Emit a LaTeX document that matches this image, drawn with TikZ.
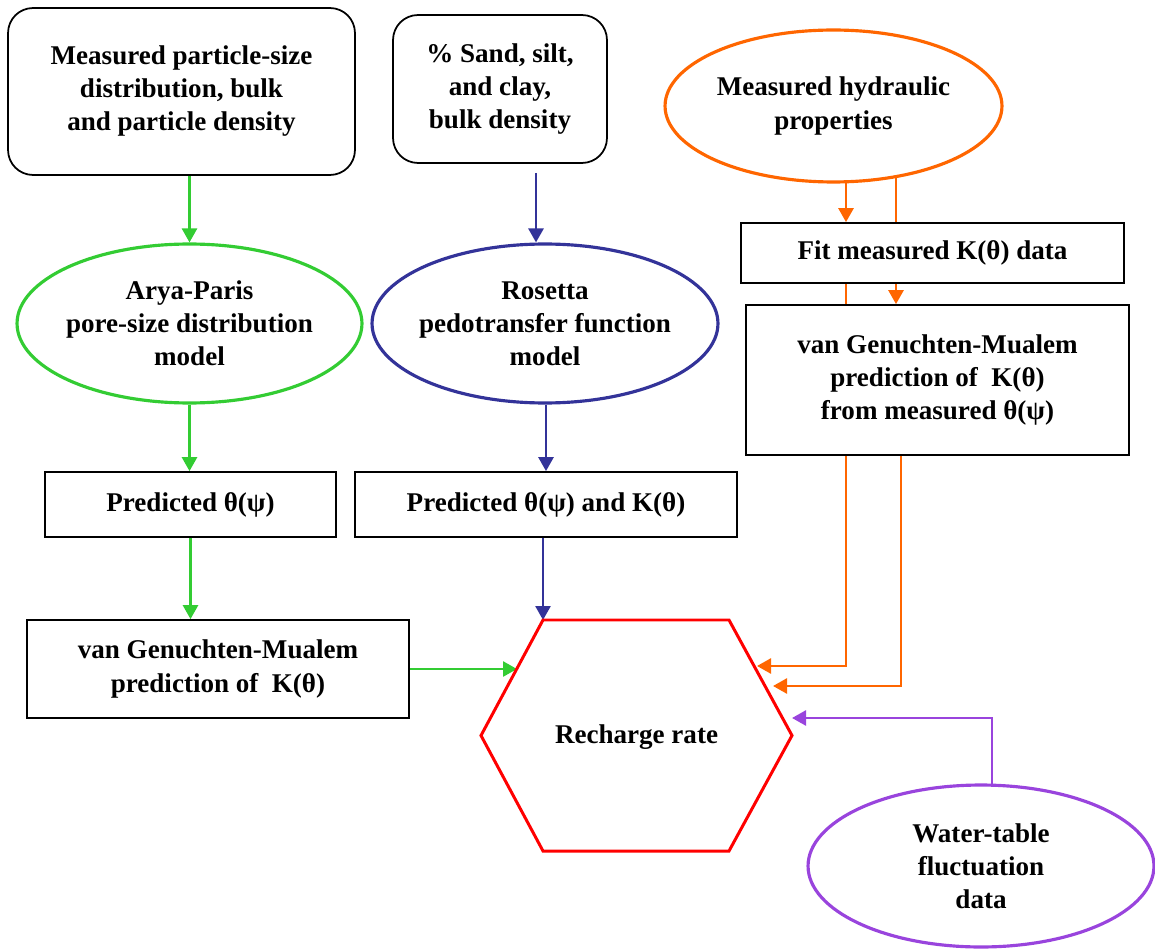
\documentclass[tikz,border=0pt]{standalone}
\usepackage{fontspec}
\setmainfont{Liberation Serif}
\usetikzlibrary{arrows.meta,backgrounds,shapes.geometric}

\definecolor{grn}{RGB}{51,204,51}
\definecolor{blu}{RGB}{51,51,153}
\definecolor{org}{RGB}{255,102,0}
\definecolor{pur}{RGB}{153,68,221}

\begin{document}
\begin{tikzpicture}[x=0.02cm,y=-0.02cm,
    every node/.style={font=\bfseries\fontsize{15.4}{18.8}\selectfont, align=center, fill=white},
    box/.style={draw, line width=1pt, inner sep=0pt},
    rbox/.style={box, rounded corners=0.5cm},
    oval/.style={ellipse, draw, line width=1.8pt, inner sep=-1cm},
    arr/.style={line width=1.5pt, -{Triangle[length=0.28cm,width=0.3cm]}}]
\useasboundingbox (0,0) rectangle (1155,949);

% inputs
\node[rbox, minimum width=6.94cm, minimum height=3.34cm] (psd) at (181.5,91.5)
    {Measured particle-size\\distribution, bulk\\and particle density};
\node[rbox, minimum width=4.28cm, minimum height=2.96cm] (pct) at (500,89)
    {\% Sand, silt,\\and clay,\\bulk density};
\node[oval, draw=org, minimum width=6.74cm, minimum height=3.04cm] (hyd) at (833.5,106)
    {Measured hydraulic\\properties};

% models
\node[oval, draw=grn, minimum width=6.9cm, minimum height=3.18cm] (arya) at (189.5,323.5)
    {Arya-Paris\\pore-size distribution\\model};
\node[oval, draw=blu, minimum width=6.92cm, minimum height=3.18cm] (ros) at (545,323.5)
    {Rosetta\\pedotransfer function\\model};
\node[box, minimum width=7.66cm, minimum height=1.2cm] (fit) at (932.5,253)
    {Fit measured K(θ) data};
\node[box, minimum width=7.66cm, minimum height=3cm] (vgr) at (937.5,380)
    {van Genuchten-Mualem\\prediction of\ \ K(θ)\\from measured θ(ψ)};

% predictions
\node[box, minimum width=5.82cm, minimum height=1.3cm] (pra) at (190.5,504.5)
    {Predicted θ(ψ)};
\node[box, minimum width=7.64cm, minimum height=1.3cm] (prr) at (546,504.5)
    {Predicted θ(ψ) and K(θ)};
\node[box, minimum width=7.64cm, minimum height=1.96cm] (vgl) at (218,669)
    {van Genuchten-Mualem\\prediction of\ \ K(θ)};

% recharge
\draw[red, line width=1.7pt, fill=white] (543,620) coordinate (hB) -- (729,620)
    -- (792,735.5) -- (729,851) -- (543,851) -- (481,735.5) -- cycle;
\node (rech) at (636.5,737) {Recharge rate};
\node[oval, draw=pur, minimum width=6.92cm, minimum height=3.24cm] (wt) at (981,866)
    {Water-table\\fluctuation\\data};

\coordinate (hG) at (517,669);
\coordinate (hO1) at (757,666);
\coordinate (hO2) at (773,686);
\coordinate (hP) at (792,718);
\coordinate (bx) at (536,0);
\coordinate (oL) at (846,0);
\coordinate (oR) at (896,0);
\coordinate (oS) at (901,0);
\coordinate (pv) at (992,0);

\begin{pgfonlayer}{background}
\draw[arr, grn] (psd.south -| arya.north) -- (arya.north);
\draw[arr, grn] (arya.south) -- (arya.south |- pra.north);
\draw[arr, grn] (pra.south) -- (pra.south |- vgl.north);
\draw[arr, grn] (vgl.east) -- (hG);

\draw[arr, blu, shorten <=0.18cm] (pct.south -| bx) -- (ros.north -| bx);
\draw[arr, blu] (ros.south -| prr.north) -- (prr.north);
\draw[arr, blu] (prr.south -| hB) -- (hB);

\draw[arr, org] (hyd.center -| oL) -- (fit.north -| oL);
\draw[line width=1.5pt, org] (fit.center -| oL) -- (vgr.center -| oL);
\draw[arr, org] (vgr.center -| oL) |- (hO1);
\draw[line width=1.5pt, org] (hyd.center -| oR) -- (fit.center -| oR);
\draw[arr, org] (fit.south -| oR) -- (vgr.north -| oR);
\draw[arr, org] (vgr.center -| oS) |- (hO2);

\draw[arr, pur] (wt.center -| pv) |- (hP);
\end{pgfonlayer}
\end{tikzpicture}
\end{document}
